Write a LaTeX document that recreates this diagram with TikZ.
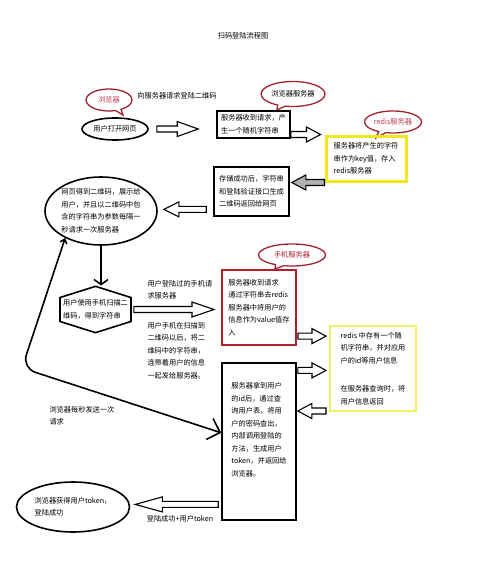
\documentclass[tikz,border=0pt]{standalone}
\usepackage{fontspec}
\setmainfont{Noto Sans CJK SC}
\usetikzlibrary{shapes.geometric,shapes.callouts,shapes.symbols,arrows.meta,calc}
\definecolor{ylw}{RGB}{240,232,30}
\definecolor{ylwlight}{RGB}{242,240,100}
\definecolor{rd}{RGB}{180,30,45}
\definecolor{crd}{RGB}{160,35,50}
\definecolor{ctxt}{RGB}{190,60,80}
\tikzset{
  every node/.style={font=\fontsize{7.2}{12.5}\selectfont},
  box/.style={draw,line width=1.6pt,align=left,inner sep=2pt},
  bubble/.style={ellipse callout,draw=crd,line width=1.3pt,inner sep=1pt},
  hollow/.style={draw=black,fill=white,line width=1.1pt,line join=miter,
    to path={let \p1=(\tikztostart), \p2=(\tikztotarget), \n1={sign(\x2-\x1)} in
      ({\x1},{\y1+3pt}) -- ({\x2-\n1*#1},{\y1+3pt}) -- ({\x2-\n1*#1},{\y1+7.5pt})
      -- ({\x2},{\y1}) -- ({\x2-\n1*#1},{\y1-7.5pt}) -- ({\x2-\n1*#1},{\y1-3pt})
      -- ({\x1},{\y1-3pt}) -- cycle}},
  hollow/.default=15pt,
}

\begin{document}
\begin{tikzpicture}[x=1pt,y=-1pt]
    \useasboundingbox (0,0) rectangle (478,567);
    %title
    \node (T0) at (243,36) {扫码登陆流程图};
    %callouts
    \node (C1) at (109,100) [bubble,minimum width=46pt,minimum height=22pt,text=ctxt,callout absolute pointer={(123,115)}]{浏览器};
    \node (C2) at (293,94) [bubble,minimum width=57pt,minimum height=25pt,callout absolute pointer={(277,110)}]{浏览器服务器};
    \node (C3) at (393,122) [bubble,minimum width=57pt,minimum height=22pt,text=ctxt,callout absolute pointer={(376,138)}]{redis服务器};
    \node (C4) at (292,255) [bubble,minimum width=67pt,minimum height=22pt,text=rd,callout absolute pointer={(275,269)}]{手机服务器};
    \node (T1) at (177,96) {向服务器请求登陆二维码};

    \node (B1) at (115,129) [ellipse,draw,line width=1.6pt,minimum width=66pt,minimum height=22pt,inner sep=0pt]{用户打开网页};
    \node (S1) at (253.5,124.5) [box,minimum width=73pt,minimum height=27pt]{服务器收到请求，产\\生一个随机字符串};
    \node (R1) at (366,158.5) [box,draw=ylw,line width=3pt,minimum width=80pt,minimum height=45pt]{服务器将产生的字符\\串作为key值，存入\\redis服务器};
    \node (S2) at (251.5,191.5) [box,minimum width=75pt,minimum height=49pt]{存储成功后，字符串\\和登陆验证接口生成\\二维码返回给网页};
    \node (W1) at (101,211) [ellipse,draw,line width=1.6pt,minimum width=108pt,minimum height=68pt,inner sep=0pt,align=left]{网页得到二维码，展示给\\用户，并且以二维码中包\\含的字符串为参数每隔一\\秒请求一次服务器};
    \node (H1) at (95.5,309.5) [signal,signal to=north and south,signal pointer angle=145,draw,line width=1.6pt,minimum width=71pt,minimum height=45pt,inner sep=1pt,align=left]{用户使用手机扫描二\\维码，得到字符串};
    \node (M1) at (259,307.5) [box,draw=rd,line width=2pt,minimum width=74pt,minimum height=75pt]{服务器收到请求\\通过字符串去redis\\服务器中将用户的\\信息作为value值存\\入};
    \node (R2) at (373,368.5) [box,draw=ylwlight,line width=2pt,minimum width=86pt,minimum height=85pt]{redis 中存有一个随\\机字符串，并对应用\\户的id等用户信息\\[16pt]在服务器查询时，将\\用户信息返回};
    \node (S3) at (259,441.5) [box,minimum width=74pt,minimum height=157pt]{服务器拿到用户\\的id后，通过查\\询用户表，将用\\户的密码查出，\\内部调用登陆的\\方法，生成用户\\token，并返回给\\浏览器。\\[12pt]\mbox{}};
    \node (W2) at (73,507) [ellipse,draw,line width=1.6pt,minimum width=113pt,minimum height=50pt,inner sep=0pt,align=left]{浏览器获得用户token，\\登陆成功};
    \node (T2) at (144,290) [anchor=west,align=left]{用户登陆过的手机请\\求服务器};
    \node (T3) at (144,350.5) [anchor=west,align=left]{用户手机在扫描到\\二维码以后，将二\\维码中的字符串，\\连带着用户的信息\\一起发给服务器。};
    \node (T4) at (46,415.5) [anchor=west,align=left]{浏览器每秒发送一次\\请求};
    \node (T5) at (180,519) {登陆成功+用户token};
    \coordinate (K1) at (22,368);

    \draw [hollow=21pt] ($(B1.east)+(8,0)$) to ($(B1.east -| S1.west)+(-18,0)$);
    \draw [hollow=14pt] (S1.-15) to ($(S1.-15 -| R1.west)+(-4,0)$);
    \draw [hollow=14pt,fill=gray!60] (R1.south west) to ($(R1.south west -| S2.east)+(2,0)$);
    \draw [hollow=15pt] ($(S2.205)+(-7,0)$) to ($(S2.205 -| W1.east)+(6,0)$);
    \draw [hollow=22pt] ($(H1.east)+(2,0)$) to ($(H1.east -| M1.west)+(-7,0)$);
    \draw [hollow=14pt] ($(M1.-37)+(1,0)$) to ($(M1.-37 -| R2.west)+(-3,0)$);
    \draw [hollow=14pt] ($(S3.62)+(1,0)$) to ($(S3.62 -| R2.west)+(-3,0)$);
    \draw [hollow=14pt] ($(R2.224)+(-3,0)$) to ($(R2.224 -| S3.east)+(1,0)$);
    \draw [hollow=27pt] ($(S3.239)+(-3,0)$) to ($(S3.239 -| W2.east)+(5,0)$);

    \draw [line width=1.6pt,-{Straight Barb[length=5pt,width=14pt]}] (W1.south) -- (W1.south |- H1.north);
    \draw [line width=1.6pt,rounded corners=14pt,{Straight Barb[length=4pt,width=7pt]}-{Straight Barb[length=11pt,width=22pt]}] (W1.217) -- (K1) -- (S3.167);
\end{tikzpicture}
\end{document}
